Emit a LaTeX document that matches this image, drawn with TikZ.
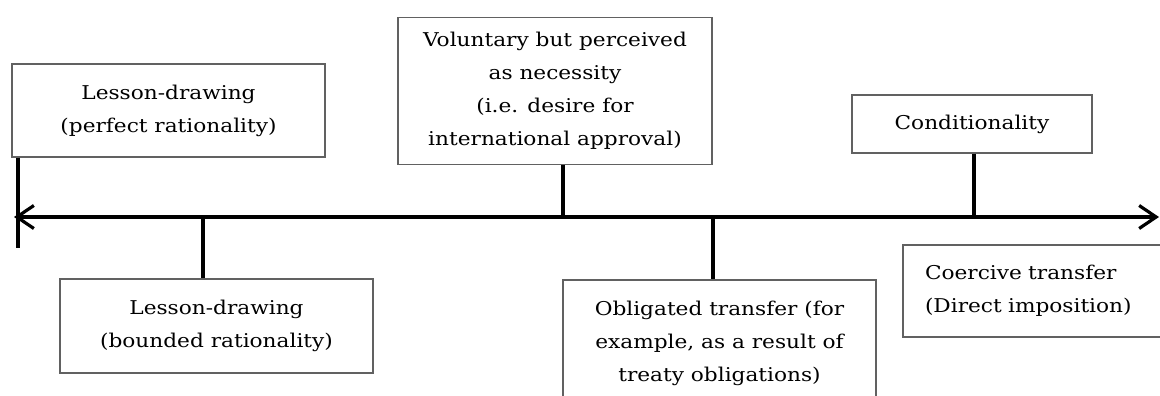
\documentclass[tikz,border=0pt]{standalone}
\usepackage{fontspec}
\setmainfont{DejaVu Serif}[FakeStretch=1.14]
\usetikzlibrary{arrows.meta}
\begin{document}
\begin{tikzpicture}[x=1pt,y=-1pt,
  box/.style={draw=black!62, line width=1.1pt, fill=white, inner sep=0pt,
    align=center, font=\fontsize{19}{33}\selectfont},
  link/.style={line width=3.2pt, black},
  barb/.tip={Straight Barb[length=17pt,width=23pt,line width=3.2pt]},
  axisline/.style={line width=3.2pt, black, barb-barb}
]
\useasboundingbox (0,0) rectangle (1160,396);
\clip (0,0) rectangle (1160,396);

% boxes above the axis
\node[box, minimum width=313pt, minimum height=93pt] (perfect) at (168.5,110.5)
  {Lesson-drawing\\(perfect rationality)};
\node[box, minimum width=314pt, minimum height=147pt] (voluntary) at (555,91)
  {Voluntary but perceived\\as necessity\\(i.e. desire for\\international approval)};
\node[box, minimum width=240pt, minimum height=58pt] (cond) at (972,124)
  {Conditionality};

% boxes below the axis
\node[box, minimum width=313pt, minimum height=94pt] (bounded) at (216.5,326)
  {Lesson-drawing\\(bounded rationality)};
\node[box, minimum width=313pt, minimum height=127pt] (obligated) at (719.5,343.5)
  {Obligated transfer (for\\example, as a result of\\treaty obligations)};
\node[box, minimum width=297pt, minimum height=92pt, align=left,
  text width=253pt] (coercive) at (1051.5,291)
  {Coercive transfer\\(Direct imposition)};

% the axis
\coordinate (aL) at (14,217);
\coordinate (aR) at (1159,217);
\draw[axisline] (aL) -- (aR);

% junctions on the axis and the stub below the left end
\coordinate (t0) at (18,248);
\coordinate (j2) at (203,217);
\coordinate (j3) at (563,217);
\coordinate (j4) at (713,217);
\coordinate (j5) at (974,217);

\draw[link] (perfect.south -| t0) -- (t0);
\draw[link] (j2) -- (j2 |- bounded.north);
\draw[link] (voluntary.south -| j3) -- (j3);
\draw[link] (j4) -- (j4 |- obligated.north);
\draw[link] (cond.south -| j5) -- (j5);
\end{tikzpicture}
\end{document}
